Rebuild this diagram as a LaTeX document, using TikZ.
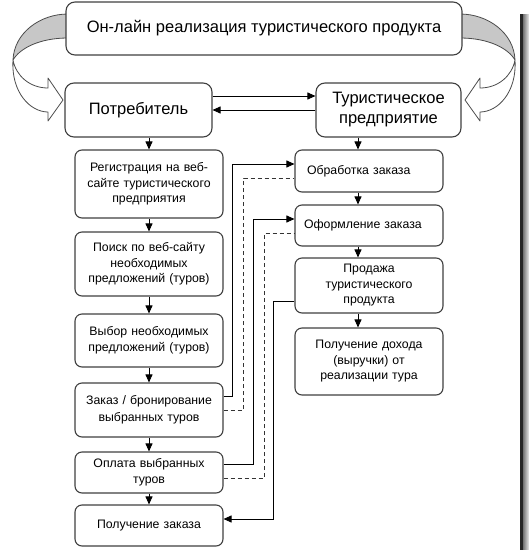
\documentclass[tikz,border=0pt]{standalone}
\usepackage{fontspec}
\setmainfont{Liberation Sans}
\usetikzlibrary{arrows.meta}
\begin{document}
\begin{tikzpicture}[x=1pt,y=-1pt,
  box/.style={draw=black!75, line width=1.1pt, rounded corners=7pt, fill=white,
    inner sep=0pt, align=center, font=\fontsize{12.3}{15.5}\selectfont},
  bigbox/.style={box, rounded corners=9pt, font=\fontsize{16.5}{20}\selectfont},
  arr/.style={draw=black, line width=0.9pt, -{Triangle[length=8pt,width=7pt]}},
  dsh/.style={draw=black!80, line width=0.9pt, dash pattern=on 4pt off 3pt},
  ribbon/.style={draw=black!70, line width=0.8pt, line join=round}
]
\useasboundingbox (0,0) rectangle (529,550);
% frame edge on the right
\fill[black!85] (520,14) rectangle (523,550);
\shade[left color=black!55, right color=black!8] (523,14) rectangle (529,550);

% curved arrows (left)
\filldraw[ribbon, fill=black!22] (68,14) .. controls (40,14) and (14,33) .. (13,60)
  .. controls (20,48) and (40,38) .. (68,38) -- cycle;
\filldraw[ribbon, fill=white] (13,60) .. controls (11,92) and (30,112) .. (48,112)
  -- (48,121) -- (63,100) -- (48,78) -- (48,88)
  .. controls (30,88) and (16,76) .. (13,60) -- cycle;
% curved arrows (right)
\filldraw[ribbon, fill=black!22] (460,14) .. controls (488,14) and (514,33) .. (515,60)
  .. controls (508,48) and (488,38) .. (460,38) -- cycle;
\filldraw[ribbon, fill=white] (515,60) .. controls (517,92) and (498,112) .. (480,112)
  -- (480,121) -- (465,100) -- (480,78) -- (480,88)
  .. controls (498,88) and (512,76) .. (515,60) -- cycle;

% top level
\node[bigbox, minimum width=396pt, minimum height=53pt] (title) at (264,28.5)
  {Он-лайн реализация туристического продукта};
\node[bigbox, minimum width=147pt, minimum height=54pt] (potr) at (138.5,110)
  {Потребитель};
\node[bigbox, minimum width=145pt, minimum height=54pt] (tur) at (388.5,110)
  {Туристическое\\предприятие};

% left column
\node[box, minimum width=148pt, minimum height=68pt, text width=148pt] (reg) at (149,184)
  {Регистрация на веб-\\сайте туристического\\предприятия};
\node[box, minimum width=148pt, minimum height=64pt, text width=148pt] (poisk) at (149,264)
  {Поиск по веб-сайту\\необходимых\\предложений (туров)};
\node[box, minimum width=148pt, minimum height=53pt, text width=148pt] (vybor) at (149,340.5)
  {Выбор необходимых\\предложений (туров)};
\node[box, minimum width=148pt, minimum height=54pt, text width=148pt,
  font=\fontsize{12.3}{17}\selectfont] (zakaz) at (149,410)
  {Заказ / бронирование\\выбранных туров};
\node[box, minimum width=148pt, minimum height=41pt, text width=148pt] (oplata) at (149,472.5)
  {Оплата выбранных\\туров};
\node[box, minimum width=148pt, minimum height=41pt, text width=148pt] (poluch) at (149,525.5)
  {Получение заказа};

% right column
\node[box, minimum width=148pt, minimum height=42pt, text width=148pt, align=left] (obr) at (369,171)
  {\hspace*{12pt}Обработка заказа};
\node[box, minimum width=148pt, minimum height=41pt, text width=148pt, align=left] (oform) at (369,225.5)
  {\hspace*{9pt}Оформление заказа};
\node[box, minimum width=148pt, minimum height=55pt, text width=148pt] (prod) at (369,285.5)
  {Продажа\\туристического\\продукта};
\node[box, minimum width=148pt, minimum height=67pt, text width=148pt] (dohod) at (369,361.5)
  {Получение дохода\\(выручки) от\\реализации тура};

% top connectors
\draw[arr] ([yshift=14pt]potr.east) -- ([yshift=14pt]tur.west |- potr.east);
\draw[arr] (tur.west) -- (potr.east);

% left column connectors
\draw[arr] (reg.north |- potr.south) -- (reg.north);
\draw[arr] (reg.south) -- (poisk.north);
\draw[arr] (poisk.south) -- (vybor.north);
\draw[arr] (vybor.south) -- (zakaz.north);
\draw[arr] (zakaz.south) -- (oplata.north);
\draw[arr] (oplata.south) -- (poluch.north);

% right column connectors
\draw[arr] ([xshift=-11pt]obr.north |- tur.south) -- ([xshift=-11pt]obr.north);
\draw[arr] ([xshift=-11pt]obr.south) -- ([xshift=-11pt]oform.north);
\draw[arr] ([xshift=-11pt]oform.south) -- ([xshift=-11pt]prod.north);
\draw[arr] ([xshift=-11pt]prod.south) -- ([xshift=-11pt]dohod.north);

% cross connectors
\draw[arr] ([yshift=14pt]zakaz.east) -- ++(9,0) |- ([yshift=7pt]obr.west);
\draw[dsh] (zakaz.east) -- ++(20,0) |- ([yshift=-7pt]obr.west);
\draw[arr] ([yshift=8.5pt]oplata.east) -- ++(30,0) |- ([yshift=6.5pt]oform.west);
\draw[dsh] ([yshift=-5.5pt]oplata.east) -- ++(41,0) |- ([yshift=-7.5pt]oform.west);
\draw[arr] ([yshift=-15.5pt]prod.west) -- ++(-21,0) |- ([yshift=6.5pt]poluch.east);
\end{tikzpicture}
\end{document}
